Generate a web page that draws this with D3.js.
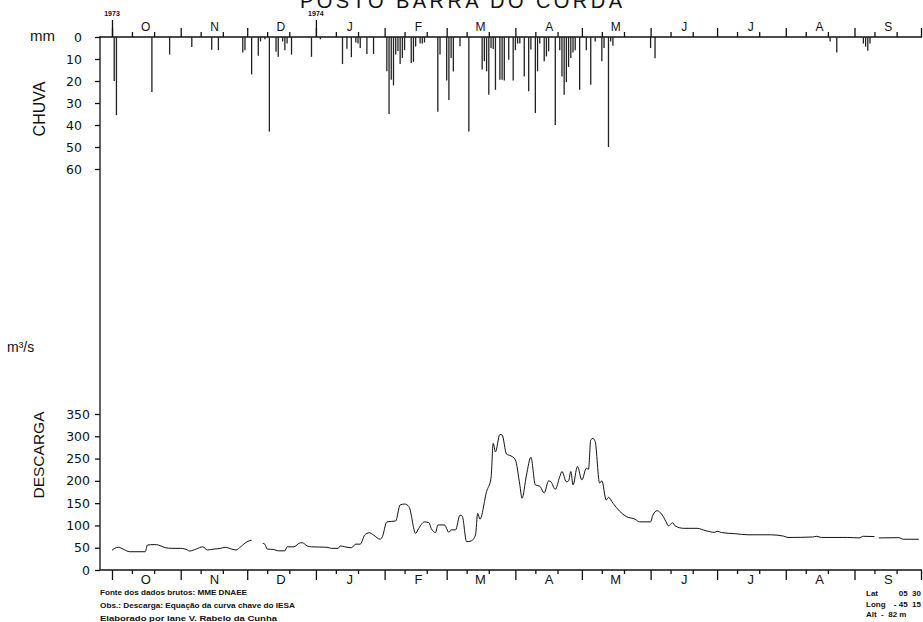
<!DOCTYPE html>
<html>
<head>
<meta charset="utf-8">
<script src="https://d3js.org/d3.v7.min.js"></script>
<style>
body { margin: 0; background: #fff; }
svg { display: block; font-family: "Liberation Sans", Arial, sans-serif; }
.tick text { font-family: "DejaVu Sans", sans-serif; }
</style>
</head>
<body>
<svg id="chart" width="923" height="622"></svg>
<script>
// month initials, Oct 1973 .. Sep 1974
var monthLetters = ["O","N","D","J","F","M","A","M","J","J","A","S"];
var rainTicks = [0, 10, 20, 30, 40, 50, 60];
var flowTicks = [0, 50, 100, 150, 200, 250, 300, 350];

// daily rainfall (mm)
var rainDates = ["1973-10-02","1973-10-03","1973-10-19","1973-10-27",
  "1973-11-06","1973-11-15","1973-11-18","1973-11-29","1973-11-30",
  "1973-12-03","1973-12-06","1973-12-07","1973-12-09","1973-12-11","1973-12-14","1973-12-15","1973-12-17","1973-12-18","1973-12-19","1973-12-21","1973-12-30",
  "1974-01-03","1974-01-13","1974-01-15","1974-01-17","1974-01-19","1974-01-20","1974-01-21","1974-01-24","1974-01-27",
  "1974-02-02","1974-02-03","1974-02-04","1974-02-05","1974-02-06","1974-02-07","1974-02-08","1974-02-09","1974-02-10","1974-02-13","1974-02-14","1974-02-15","1974-02-17","1974-02-18","1974-02-19","1974-02-25","1974-02-26",
  "1974-03-01","1974-03-02","1974-03-03","1974-03-04","1974-03-07","1974-03-11","1974-03-17","1974-03-18","1974-03-19","1974-03-20","1974-03-21","1974-03-22","1974-03-23","1974-03-25","1974-03-26","1974-03-27","1974-03-29","1974-03-31",
  "1974-04-01","1974-04-02","1974-04-03","1974-04-05","1974-04-07","1974-04-08","1974-04-10","1974-04-11","1974-04-12","1974-04-14","1974-04-15","1974-04-16","1974-04-19","1974-04-21","1974-04-22","1974-04-23","1974-04-24","1974-04-25","1974-04-26","1974-04-27","1974-04-28","1974-04-30",
  "1974-05-03","1974-05-05","1974-05-07","1974-05-10","1974-05-11","1974-05-13","1974-05-14","1974-05-15",
  "1974-06-01","1974-06-03","1974-08-21","1974-08-24",
  "1974-09-05","1974-09-06","1974-09-07","1974-09-08"];
var rainMm = [20, 35.5, 25, 8,
  4.5, 5.8, 6, 7, 6,
  17, 8.5, 2, 1, 43, 6.7, 9, 2, 6, 3, 8, 9,
  1, 12.3, 5.3, 9.2, 2.5, 3, 5, 7.7, 7.7,
  15.6, 35, 19.4, 22, 8, 6.4, 12.3, 9.5, 6, 11.8, 11.3, 4.3, 3, 3, 2.5, 34, 8,
  19.8, 28.6, 9.5, 15.7, 4.2, 43, 14.8, 11, 15.6, 26.2, 5, 5.4, 24, 19.4, 19.4, 19.8, 10.3, 19.8,
  6, 3, 3, 17.9, 24.7, 5.7, 34.5, 15.6, 3, 11, 8.8, 6.5, 40, 6, 18, 26.2, 20.5, 13.6, 9.5, 7, 6, 24,
  6, 21.7, 2, 11, 5, 50, 2, 4,
  5, 9.7, 2, 7,
  3, 4.4, 6.2, 3];

// discharge (m3/s), null = no record
var flowDates = ["1973-10-01","1973-10-02","1973-10-04","1973-10-06","1973-10-09","1973-10-16","1973-10-17","1973-10-20","1973-10-22","1973-10-25","1973-10-28",
  "1973-11-01","1973-11-04","1973-11-05","1973-11-08","1973-11-11","1973-11-13","1973-11-16","1973-11-19","1973-11-21","1973-11-24","1973-11-26","1973-11-28",
  "1973-12-01","1973-12-03","1973-12-05","1973-12-08","1973-12-09","1973-12-10","1973-12-13","1973-12-15","1973-12-18","1973-12-19","1973-12-22","1973-12-25","1973-12-26","1973-12-28","1973-12-30",
  "1974-01-06","1974-01-08","1974-01-11","1974-01-12","1974-01-14","1974-01-17","1974-01-19","1974-01-21","1974-01-23","1974-01-24","1974-01-25","1974-01-27","1974-01-30","1974-01-31",
  "1974-02-02","1974-02-06","1974-02-08","1974-02-10","1974-02-12","1974-02-15","1974-02-16","1974-02-19","1974-02-21","1974-02-22","1974-02-24","1974-02-25","1974-02-28",
  "1974-03-02","1974-03-03","1974-03-05","1974-03-07","1974-03-08","1974-03-10","1974-03-12","1974-03-14","1974-03-15","1974-03-16","1974-03-19","1974-03-21","1974-03-22","1974-03-23","1974-03-25","1974-03-26","1974-03-28","1974-03-30",
  "1974-04-01","1974-04-03","1974-04-04","1974-04-06","1974-04-08","1974-04-10","1974-04-12","1974-04-14","1974-04-16","1974-04-17","1974-04-19","1974-04-21","1974-04-22","1974-04-24","1974-04-25","1974-04-26","1974-04-27","1974-04-29",
  "1974-05-01","1974-05-03","1974-05-04","1974-05-05","1974-05-06","1974-05-07","1974-05-09","1974-05-10","1974-05-12","1974-05-13","1974-05-15","1974-05-18","1974-05-21","1974-05-25","1974-05-27",
  "1974-06-01","1974-06-02","1974-06-04","1974-06-06","1974-06-08","1974-06-09","1974-06-11","1974-06-12","1974-06-16","1974-06-22","1974-06-26","1974-06-30",
  "1974-07-01","1974-07-03","1974-07-09","1974-07-15","1974-07-25","1974-07-31",
  "1974-08-02","1974-08-13","1974-08-15","1974-08-17","1974-08-29",
  "1974-09-03","1974-09-05","1974-09-10","1974-09-11","1974-09-12","1974-09-21","1974-09-23","1974-09-30"];
var flowValues = [44, 48, 51, 47, 41, 41, 56, 57, 56, 50, 48.6,
  48.6, 45, 42.6, 47, 52, 45, 47, 48.6, 51, 47, 45, 52,
  63.5, 67, null, 60, 57.6, 47, 46, 43, 43, 52, 52, 61, 61, 54, 52,
  51, 48.6, 48.6, 54, 52, 50, 58, 58, 78.5, 82, 83.7, 78.5, 69, 75,
  108, 110, 146, 148, 142, 82, 90, 108, 106, 93.5, 84, 101, 101,
  84.5, 90, 90, 123, 121, 63.5, 65, 78.5, 127, 114, 176, 206, 284, 265, 304, 303, 260, 256,
  247, 191, 161, 213, 253, 191, 188, 173, 200, 198, 181, 209, 221, 198, 200, 221, 191, 232,
  202, 228, 226, 292, 295, 288, 195, 200, 157, 163, 150, 132, 120, 114, 108,
  108, 123, 133, 125, 108, 99, 106, 99, 93.5, 93.5, 88, 84.5,
  87, 84, 81.5, 79, 79, 76,
  73, 74, 75.6, 73, 73,
  72, 75.6, 75, null, 72, 72.5, 69, 69];

var parse = d3.utcParse("%Y-%m-%d");
var rain = rainDates.map(function(d, i){ return {date: parse(d), mm: rainMm[i]}; });
var flow = flowDates.map(function(d, i){ return {date: parse(d), q: flowValues[i]}; });

var svg = d3.select('#chart');
var t0 = parse("1973-10-01"), t1 = parse("1974-10-01");

var x = d3.scaleUtc().domain([t0, t1]).range([112, 921]);
var yRain = d3.scaleLinear().domain([0, 60]).range([37, 169]);
var yFlow = d3.scaleLinear().domain([0, 350]).range([570, 414]);

var monthStarts = d3.utcMonth.range(t0, d3.utcDay.offset(t1, 1));
var minorDays = [];
d3.utcMonth.range(t0, t1).forEach(function(m){
  minorDays.push(d3.utcDay.offset(m, 9));
  minorDays.push(d3.utcDay.offset(m, 19));
});
var midMonths = d3.utcMonth.range(t0, t1).map(function(m){ return d3.utcDay.offset(m, 15); });

function clean(g) {
  g.select('.domain').remove();
  g.selectAll('.tick line').attr('stroke', '#111').attr('stroke-width', 1.3);
}

// title (cut at top edge as in the scan)
svg.append('text').attr('x', 300).attr('y', 8)
  .attr('textLength', 322).attr('lengthAdjust', 'spacing')
  .style('font-size', '20px').style('fill', '#111')
  .text('POSTO  BARRA  DO  CORDA');

// left vertical axis line
svg.append('line').attr('x1', 100).attr('x2', 100).attr('y1', 36).attr('y2', 570)
  .attr('stroke', '#111').attr('stroke-width', 1.3);

// zero lines
svg.append('line').attr('x1', 100).attr('x2', 922).attr('y1', yRain(0)).attr('y2', yRain(0))
  .attr('stroke', '#111').attr('stroke-width', 1.3);
svg.append('line').attr('x1', 100).attr('x2', 922).attr('y1', yFlow(0)).attr('y2', yFlow(0))
  .attr('stroke', '#111').attr('stroke-width', 1.3);

// top time axis
var topG = svg.append('g').attr('transform', 'translate(0,' + yRain(0) + ')');
topG.append('g').call(d3.axisTop(x).tickValues(monthStarts).tickSize(9).tickFormat('')).call(clean);
topG.append('g').call(d3.axisTop(x).tickValues(minorDays).tickSize(5).tickFormat('')).call(clean);
topG.append('g').call(d3.axisTop(x).tickValues([t0, parse("1974-01-01")]).tickSize(17).tickFormat('')).call(clean);
topG.append('g').call(d3.axisTop(x).tickValues(midMonths).tickSize(0).tickPadding(6)
    .tickFormat(function(d, i){ return monthLetters[i]; }))
  .call(clean)
  .selectAll('text').style('font-family', '"Liberation Sans", Arial, sans-serif').style('font-size', '12px').attr('fill', '#111');
[t0, parse("1974-01-01")].forEach(function(d){
  svg.append('text').attr('x', x(d)).attr('y', 16).attr('text-anchor', 'middle')
    .style('font-size', '7px').style('font-weight', 'bold').style('fill', '#111')
    .text(d.getUTCFullYear());
});

// bottom time axis
var botG = svg.append('g').attr('transform', 'translate(0,' + yFlow(0) + ')');
botG.append('g').call(d3.axisBottom(x).tickValues(monthStarts).tickSize(10).tickFormat('')).call(clean);
botG.append('g').call(d3.axisBottom(x).tickValues(minorDays).tickSize(4).tickFormat('')).call(clean);
botG.append('g').call(d3.axisBottom(x).tickValues(midMonths).tickSize(0).tickPadding(5)
    .tickFormat(function(d, i){ return monthLetters[i]; }))
  .call(clean)
  .selectAll('text').style('font-family', '"Liberation Sans", Arial, sans-serif').style('font-size', '13px').attr('fill', '#111');

// rain y axis
svg.append('g').attr('transform', 'translate(100,0)')
  .call(d3.axisLeft(yRain).tickValues(rainTicks).tickSize(5).tickPadding(13))
  .call(clean)
  .selectAll('text').style('font-size', '12.5px').attr('fill', '#111');

// discharge y axis
svg.append('g').attr('transform', 'translate(100,0)')
  .call(d3.axisLeft(yFlow).tickValues(flowTicks).tickSize(5).tickPadding(5))
  .call(clean)
  .selectAll('text').style('font-size', '12.5px').attr('fill', '#111');

// rain bars
svg.append('g').selectAll('line').data(rain).enter().append('line')
  .attr('x1', function(d){ return x(d.date); })
  .attr('x2', function(d){ return x(d.date); })
  .attr('y1', yRain(0))
  .attr('y2', function(d){ return yRain(d.mm); })
  .attr('stroke', '#222').attr('stroke-width', 1.3);

// discharge line
var line = d3.line()
  .defined(function(d){ return d.q !== null; })
  .x(function(d){ return x(d.date); })
  .y(function(d){ return yFlow(d.q); })
  .curve(d3.curveMonotoneX);
svg.append('path').datum(flow).attr('d', line)
  .attr('fill', 'none').attr('stroke', '#111').attr('stroke-width', 1);

// axis titles
svg.append('text').attr('x', 30).attr('y', 41).style('font-size', '15px').style('fill', '#111').text('mm');
svg.append('text').attr('transform', 'translate(45,109) rotate(-90)').attr('text-anchor', 'middle')
  .style('font-size', '16px').style('fill', '#111').text('CHUVA');
svg.append('text').attr('x', 7).attr('y', 352).style('font-size', '14px').style('fill', '#111').text('m³/s');
svg.append('text').attr('transform', 'translate(44,455) rotate(-90)').attr('text-anchor', 'middle')
  .style('font-size', '15.5px').style('fill', '#111').text('DESCARGA');

// notes
var notes = ["Fonte dos dados brutos: MME  DNAEE",
  "Obs.: Descarga: Equação da curva chave do  IESA",
  "Elaborado por Iane V. Rabelo da Cunha"];
var noteWidths = [147, 195, 177];
svg.append('g').selectAll('text').data(notes).enter().append('text')
  .attr('x', 100).attr('y', function(d, i){ return 595 + i * 13; })
  .attr('textLength', function(d, i){ return noteWidths[i]; }).attr('lengthAdjust', 'spacingAndGlyphs')
  .style('font-size', '8px').style('font-weight', 'bold').style('fill', '#111')
  .text(function(d){ return d; });

var coordL = ["Lat", "Long", "Alt  -  82 m"];
var coordR = ["05  30", "- 45  15", ""];
svg.append('g').selectAll('text').data(coordL).enter().append('text')
  .attr('x', 866).attr('y', function(d, i){ return 596 + i * 10.5; })
  .attr('xml:space', 'preserve')
  .style('font-size', '8px').style('font-weight', 'bold').style('fill', '#111')
  .text(function(d){ return d; });
svg.append('g').selectAll('text').data(coordR).enter().append('text')
  .attr('x', 921).attr('y', function(d, i){ return 596 + i * 10.5; })
  .attr('text-anchor', 'end').attr('xml:space', 'preserve')
  .style('font-size', '8px').style('font-weight', 'bold').style('fill', '#111')
  .text(function(d){ return d; });
</script>
</body>
</html>
